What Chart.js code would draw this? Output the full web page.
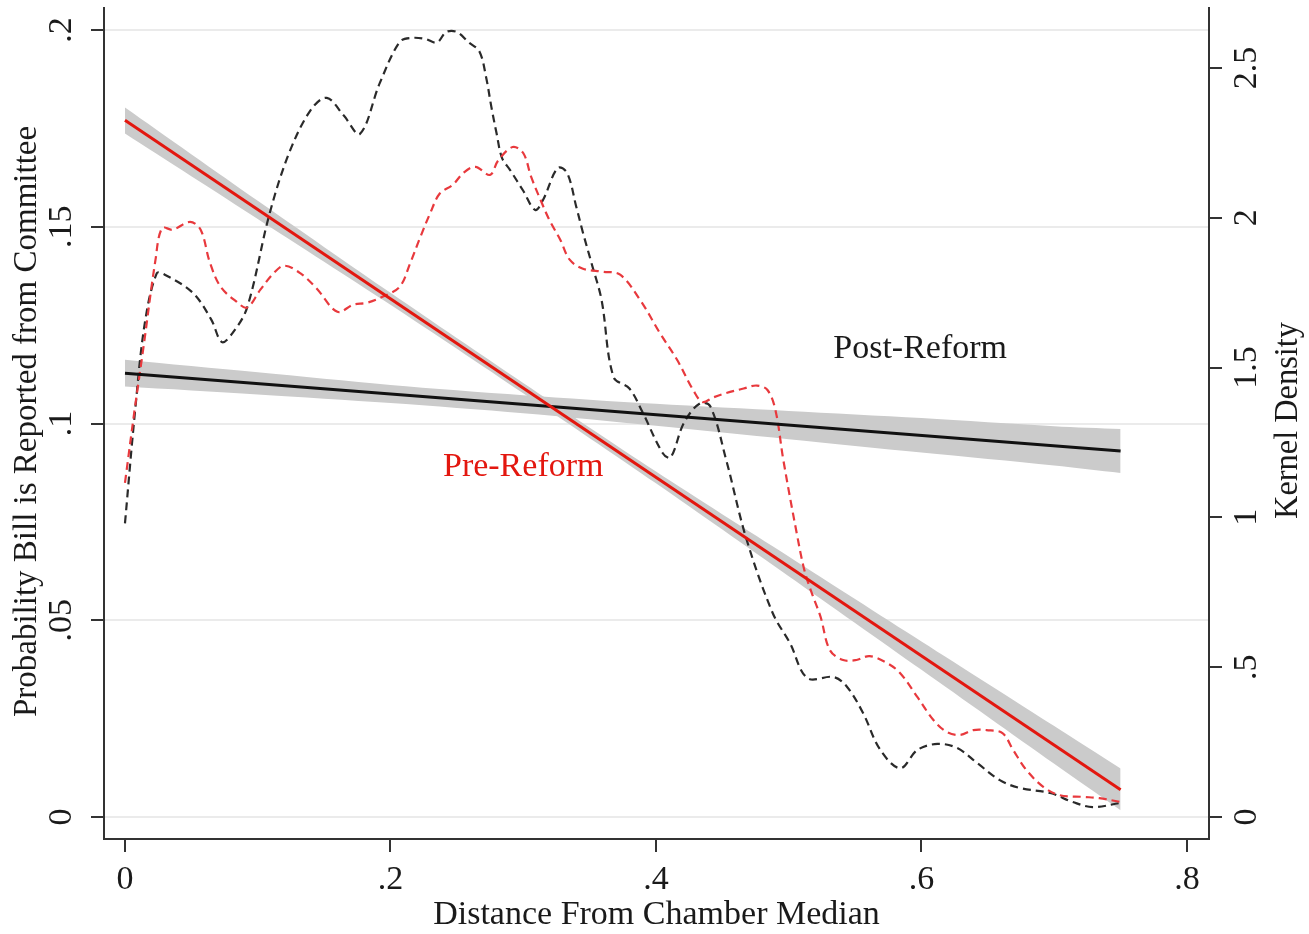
<!DOCTYPE html>
<html>
<head>
<meta charset="utf-8">
<script src="https://cdn.jsdelivr.net/npm/chart.js@4/dist/chart.umd.min.js"></script>
<style>
  html, body { margin: 0; padding: 0; background: #fff; }
  #wrap { width: 1309px; height: 934px; }
</style>
</head>
<body>
<div id="wrap"><canvas id="chart" width="1309" height="934"></canvas></div>
<script>
// ticks
const xTicks = [0, 0.2, 0.4, 0.6, 0.8];
const xTickLabels = ['0', '.2', '.4', '.6', '.8'];
const probTicks = [0, 0.05, 0.1, 0.15, 0.2];
const probTickLabels = ['0', '.05', '.1', '.15', '.2'];
const densTicks = [0, 0.5, 1, 1.5, 2, 2.5];
const densTickLabels = ['0', '.5', '1', '1.5', '2', '2.5'];

// fitted lines (left axis)
const fitX = [0, 0.75];
const preFit = [0.1771, 0.0069];
const postFit = [0.1128, 0.0930];

// confidence bands (left axis)
const bandX = [0, 0.1, 0.2, 0.3, 0.4, 0.5, 0.6, 0.7, 0.75];
const preUpper = [0.1803, 0.1566, 0.1332, 0.1103, 0.0878, 0.0662, 0.0446, 0.0231, 0.0123];
const preLower = [0.1737, 0.1520, 0.1302, 0.1077, 0.0848, 0.0612, 0.0374, 0.0135, 0.0017];
const postUpper = [0.1162, 0.1130, 0.1098, 0.1072, 0.1050, 0.1032, 0.1014, 0.0993, 0.0986];
const postLower = [0.1094, 0.1074, 0.1052, 0.1026, 0.0994, 0.0960, 0.0926, 0.0893, 0.0874];

// kernel densities (right axis)
const postDensX = [0.000, 0.0075, 0.015, 0.024, 0.030, 0.051, 0.065, 0.073, 0.081, 0.092, 0.109,
  0.124, 0.140, 0.152, 0.165, 0.177, 0.192, 0.207, 0.216, 0.226, 0.235, 0.242, 0.250, 0.259,
  0.267, 0.272, 0.276, 0.280, 0.284, 0.290, 0.300, 0.309, 0.315, 0.326, 0.333, 0.340, 0.345,
  0.352, 0.359, 0.368, 0.380, 0.390, 0.405, 0.411, 0.421, 0.433, 0.441, 0.453, 0.468, 0.488,
  0.501, 0.514, 0.534, 0.544, 0.556, 0.569, 0.584, 0.597, 0.612, 0.627, 0.642, 0.659, 0.674,
  0.697, 0.714, 0.729, 0.750];
const postDens = [0.98, 1.35, 1.65, 1.815, 1.81, 1.75, 1.66, 1.585, 1.615, 1.70, 2.015,
  2.22, 2.36, 2.40, 2.34, 2.28, 2.45, 2.587, 2.60, 2.597, 2.585, 2.62, 2.62, 2.585,
  2.555, 2.47, 2.37, 2.28, 2.20, 2.16, 2.09, 2.026, 2.06, 2.166, 2.15, 2.036, 1.95,
  1.84, 1.726, 1.469, 1.43, 1.35, 1.215, 1.20, 1.315, 1.38, 1.37, 1.19, 0.93, 0.68,
  0.58, 0.464, 0.467, 0.434, 0.347, 0.224, 0.163, 0.224, 0.244, 0.23, 0.18, 0.123, 0.097,
  0.08, 0.05, 0.033, 0.047];
const preDensX = [0.000, 0.007, 0.014, 0.023, 0.028, 0.036, 0.049, 0.057, 0.064, 0.072, 0.084,
  0.092, 0.102, 0.112, 0.120, 0.132, 0.144, 0.160, 0.172, 0.182, 0.194, 0.207, 0.215, 0.222,
  0.230, 0.237, 0.247, 0.255, 0.264, 0.275, 0.281, 0.292, 0.300, 0.306, 0.313, 0.320, 0.328,
  0.335, 0.345, 0.360, 0.373, 0.388, 0.403, 0.416, 0.428, 0.435, 0.443, 0.453, 0.466, 0.476,
  0.484, 0.490, 0.496, 0.506, 0.512, 0.518, 0.524, 0.531, 0.541, 0.551, 0.561, 0.574, 0.584,
  0.597, 0.609, 0.619, 0.629, 0.639, 0.649, 0.661, 0.669, 0.679, 0.692, 0.704, 0.722, 0.734, 0.750];
const preDens = [1.115, 1.35, 1.57, 1.86, 1.966, 1.96, 1.986, 1.96, 1.85, 1.77, 1.72,
  1.70, 1.76, 1.815, 1.84, 1.815, 1.766, 1.686, 1.71, 1.716, 1.736, 1.77, 1.85, 1.93,
  2.016, 2.08, 2.11, 2.15, 2.17, 2.143, 2.19, 2.236, 2.216, 2.136, 2.06, 1.99, 1.926,
  1.86, 1.83, 1.82, 1.81, 1.726, 1.615, 1.525, 1.425, 1.385, 1.40, 1.415, 1.43, 1.44,
  1.425, 1.358, 1.19, 0.948, 0.82, 0.74, 0.668, 0.557, 0.524, 0.524, 0.537, 0.514, 0.48,
  0.40, 0.324, 0.284, 0.274, 0.29, 0.29, 0.28, 0.224, 0.157, 0.10, 0.073, 0.067, 0.063, 0.05];

// in-plot labels [x, prob]
const postLabelPos = [0.599, 0.119];
const preLabelPos = [0.300, 0.089];

const RED = '#e3170f';
const RED_DASH = '#e8393d';
const BLACK = '#111111';
const BAND = '#cbcbcb';
const AXIS = '#333333';
const FONT = '"Liberation Serif", "DejaVu Serif", serif';

function pts(xs, ys) {
  return xs.map((x, i) => ({ x: x, y: ys[i] }));
}

function vText(ctx, text, x, y, maxW) {
  ctx.save();
  ctx.translate(x, y);
  ctx.rotate(-Math.PI / 2);
  ctx.fillText(text, 0, 0, maxW);
  ctx.restore();
}

const textPlugin = {
  id: 'texts',
  afterDraw(chart) {
    const ctx = chart.ctx;
    const sx = chart.scales.x, sy = chart.scales.y, sy2 = chart.scales.y2;
    ctx.save();
    ctx.textAlign = 'center';
    ctx.textBaseline = 'middle';
    ctx.fillStyle = '#1a1a1a';
    ctx.font = '34px ' + FONT;
    xTicks.forEach((v, i) => ctx.fillText(xTickLabels[i], sx.getPixelForValue(v), 880));
    probTicks.forEach((v, i) => vText(ctx, probTickLabels[i], 62, sy.getPixelForValue(v)));
    densTicks.forEach((v, i) => vText(ctx, densTickLabels[i], 1247, sy2.getPixelForValue(v)));

    ctx.font = '34px ' + FONT;
    ctx.fillText('Distance From Chamber Median', (chart.chartArea.left + chart.chartArea.right) / 2, 915, 447);
    const midY = (chart.chartArea.top + chart.chartArea.bottom) / 2;
    ctx.font = '33px ' + FONT;
    vText(ctx, 'Probability Bill is Reported from Committee', 27, midY - 2, 600);
    vText(ctx, 'Kernel Density', 1288, midY - 3, 197);

    ctx.font = '34px ' + FONT;
    ctx.fillText('Post-Reform', sx.getPixelForValue(postLabelPos[0]), sy.getPixelForValue(postLabelPos[1]), 176);
    ctx.fillStyle = RED;
    ctx.fillText('Pre-Reform', sx.getPixelForValue(preLabelPos[0]), sy.getPixelForValue(preLabelPos[1]), 166);
    ctx.restore();
  }
};

new Chart(document.getElementById('chart'), {
  type: 'scatter',
  data: {
    datasets: [
      { data: pts(fitX, preFit), yAxisID: 'y', showLine: true, borderColor: RED, borderWidth: 3,
        pointRadius: 0, order: 0 },
      { data: pts(fitX, postFit), yAxisID: 'y', showLine: true, borderColor: BLACK, borderWidth: 3,
        pointRadius: 0, order: 0 },
      { data: pts(preDensX, preDens), yAxisID: 'y2', showLine: true, borderColor: RED_DASH, borderWidth: 2.2,
        borderDash: [8, 5], pointRadius: 0, tension: 0.35, order: 1 },
      { data: pts(postDensX, postDens), yAxisID: 'y2', showLine: true, borderColor: '#2a2a2a', borderWidth: 2.2,
        borderDash: [8, 5], pointRadius: 0, tension: 0.35, order: 1 },
      { data: pts(bandX, preUpper), yAxisID: 'y', showLine: true, borderWidth: 0, borderColor: 'rgba(0,0,0,0)',
        pointRadius: 0, tension: 0.3, fill: false, order: 2 },
      { data: pts(bandX, preLower), yAxisID: 'y', showLine: true, borderWidth: 0, borderColor: 'rgba(0,0,0,0)',
        pointRadius: 0, tension: 0.3, fill: '-1', backgroundColor: BAND, order: 2 },
      { data: pts(bandX, postUpper), yAxisID: 'y', showLine: true, borderWidth: 0, borderColor: 'rgba(0,0,0,0)',
        pointRadius: 0, tension: 0.3, fill: false, order: 2 },
      { data: pts(bandX, postLower), yAxisID: 'y', showLine: true, borderWidth: 0, borderColor: 'rgba(0,0,0,0)',
        pointRadius: 0, tension: 0.3, fill: '-1', backgroundColor: BAND, order: 2 }
    ]
  },
  options: {
    responsive: false,
    animation: false,
    layout: { padding: { left: 91, right: 87, top: 8, bottom: 82 } },
    plugins: { legend: { display: false }, tooltip: { enabled: false } },
    scales: {
      x: {
        type: 'linear', min: -0.0158, max: 0.8166,
        afterBuildTicks: s => { s.ticks = xTicks.map(v => ({ value: v })); },
        ticks: { display: false },
        grid: { drawOnChartArea: false, color: AXIS, tickColor: AXIS, tickLength: 13, lineWidth: 2 },
        border: { color: AXIS, width: 2 }
      },
      y: {
        type: 'linear', position: 'left', min: -0.0056, max: 0.2056,
        afterBuildTicks: s => { s.ticks = probTicks.map(v => ({ value: v })); },
        ticks: { display: false },
        grid: { color: '#ebebeb', tickColor: AXIS, tickLength: 13, lineWidth: 2 },
        border: { color: AXIS, width: 2 }
      },
      y2: {
        type: 'linear', position: 'right', min: -0.0734, max: 2.70,
        afterBuildTicks: s => { s.ticks = densTicks.map(v => ({ value: v })); },
        ticks: { display: false },
        grid: { drawOnChartArea: false, color: AXIS, tickColor: AXIS, tickLength: 13, lineWidth: 2 },
        border: { color: AXIS, width: 2 }
      }
    }
  },
  plugins: [textPlugin]
});
</script>
</body>
</html>
